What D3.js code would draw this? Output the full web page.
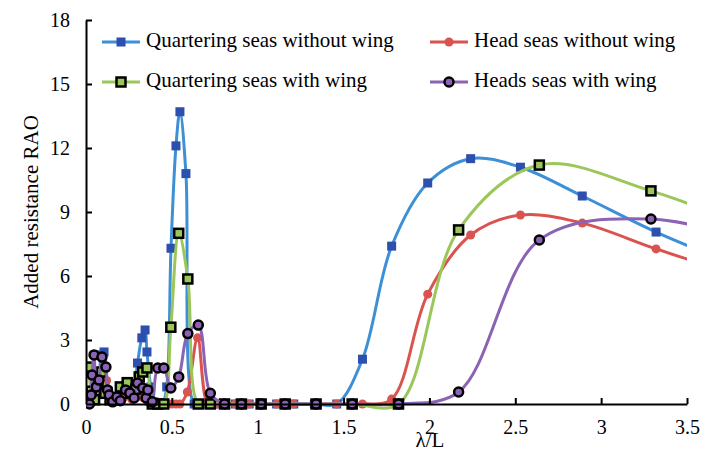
<!DOCTYPE html>
<html>
<head>
<meta charset="utf-8">
<title>Added resistance RAO</title>
<script src="https://d3js.org/d3.v7.min.js"></script>
<style>
  body { margin: 0; background: #fff; }
</style>
</head>
<body>
<svg id="chart"></svg>
<script>
// series values: [lambda/L, RAO]
var quarterNoWing = [[0.02,0.3],[0.05,1.2],[0.07,0.5],[0.09,2.3],[0.105,2.44],[0.13,0.6],[0.16,0.2],[0.2,0.4],[0.24,0.6],[0.27,0.3],
  [0.3,1.92],[0.325,3.1],[0.344,3.47],[0.355,2.44],[0.377,0.8],[0.396,0.1],[0.417,0],[0.445,0],[0.47,0.8],[0.495,7.3],
  [0.524,12.1],[0.547,13.7],[0.582,10.8],[0.63,0],[0.67,0],[0.71,0],[0.76,0],[0.81,0],[0.87,0],[0.95,0],[1.02,0],[1.11,0],
  [1.21,0],[1.33,0],[1.46,0],[1.61,2.1],[1.78,7.4],[1.99,10.36],[2.24,11.5],[2.53,11.1],[2.89,9.75],[3.32,8.06],[3.85,6.3]]
var headNoWing = [[0.02,0.2],[0.05,0.4],[0.08,0.9],[0.12,1.1],[0.14,0.3],[0.17,0.1],[0.22,0.3],[0.27,0.2],[0.3,0.5],[0.33,0.3],
  [0.36,0.1],[0.4,0],[0.445,0],[0.47,0],[0.5,0],[0.524,0],[0.547,0],[0.59,0.56],[0.65,3.1],[0.71,0],[0.76,0],[0.81,0],[0.87,0],
  [0.95,0],[1.02,0],[1.11,0],[1.21,0],[1.33,0],[1.46,0],[1.61,0],[1.78,0.23],[1.99,5.15],[2.24,7.92],[2.53,8.86],[2.89,8.48],
  [3.32,7.27],[3.85,5.9]]
var quarterWing = [[0.017,1.73],[0.03,0.6],[0.05,0.2],[0.07,0.9],[0.09,1.5],[0.11,0.5],[0.14,0.2],[0.17,0.3],[0.2,0.8],[0.24,1.0],
  [0.26,0.5],[0.29,0.7],[0.31,1.27],[0.33,1.5],[0.355,1.69],[0.386,0],[0.418,0],[0.453,0],[0.494,3.6],[0.54,8.0],[0.593,5.86],
  [0.654,0],[0.724,0],[0.807,0],[0.905,0],[1.02,0],[1.16,0],[1.34,0],[1.55,0],[1.82,0],[2.17,8.16],[2.64,11.2],[3.29,9.99],[4.18,7.3]]
var headWing = [[0.02,0],[0.03,0.42],[0.035,1.36],[0.047,2.3],[0.06,0.8],[0.076,1.12],[0.093,2.2],[0.116,1.73],[0.125,0.66],
  [0.135,0.42],[0.155,0.1],[0.18,0.33],[0.2,0.15],[0.23,0.66],[0.255,0.52],[0.28,0.28],[0.3,0.98],[0.33,0.75],[0.35,0.28],
  [0.36,0.66],[0.386,0.1],[0.418,1.69],[0.453,1.69],[0.494,0.75],[0.54,1.27],[0.593,3.3],[0.654,3.7],[0.724,0.5],[0.807,0],
  [0.905,0],[1.02,0],[1.16,0],[1.34,0],[1.55,0],[1.82,0],[2.17,0.56],[2.64,7.69],[3.29,8.67],[4.18,6.9]]

var seriesNames = ['Quartering seas without wing', 'Head seas without wing', 'Quartering seas with wing', 'Heads seas with wing']
var xTicks = [0, 0.5, 1, 1.5, 2, 2.5, 3, 3.5]
var yTicks = [0, 3, 6, 9, 12, 15, 18]

var W = 715, H = 453
var pLeft = 86, pRight = 687, pTop = 20, pBottom = 404
var serif = '"Liberation Serif", "Times New Roman", serif'

var svg = d3.select('#chart').attr('width', W).attr('height', H)

var x = d3.scaleLinear().domain([0, 3.5]).range([pLeft, pRight])
var y = d3.scaleLinear().domain([0, 18]).range([pBottom, pTop])

svg.append('defs').append('clipPath').attr('id', 'plot')
  .append('rect').attr('x', pLeft).attr('y', pTop - 10).attr('width', pRight - pLeft).attr('height', pBottom - pTop + 20)

var styles = [
  { data: quarterNoWing, line: '#3d8fd6', marker: 'square', fill: '#2d4fae', stroke: 'none', size: 9 },
  { data: headNoWing, line: '#d9534f', marker: 'circle', fill: '#d9534f', stroke: 'none', size: 4.5 },
  { data: quarterWing, line: '#9bc75a', marker: 'square', fill: '#9bc75a', stroke: '#000', size: 9 },
  { data: headWing, line: '#8b63b5', marker: 'circle', fill: '#8b63b5', stroke: '#000', size: 4.5 }
]

var line = d3.line()
  .x(function (d) { return x(d[0]) })
  .y(function (d) { return y(d[1]) })
  .curve(d3.curveCatmullRom.alpha(0.5))

function drawMarker(g, s, cx, cy) {
  if (s.marker == 'square') {
    g.append('rect')
      .attr('x', cx - s.size / 2).attr('y', cy - s.size / 2)
      .attr('width', s.size).attr('height', s.size)
      .attr('fill', s.fill).attr('stroke', s.stroke).attr('stroke-width', 2.5)
  } else {
    g.append('circle')
      .attr('cx', cx).attr('cy', cy).attr('r', s.size)
      .attr('fill', s.fill).attr('stroke', s.stroke).attr('stroke-width', 2.5)
  }
}

var plot = svg.append('g').attr('clip-path', 'url(#plot)')

styles.forEach(function (s) {
  var g = plot.append('g')
  g.append('path')
    .attr('d', line(s.data))
    .attr('fill', 'none')
    .attr('stroke', s.line)
    .attr('stroke-width', 3)
  s.data.forEach(function (d) {
    if (d[0] <= 3.5) drawMarker(g, s, x(d[0]), y(d[1]))
  })
})

// axes, ticks inside
var xAxis = svg.append('g').attr('transform', `translate(0,${pBottom})`)
  .call(d3.axisBottom(x).tickValues(xTicks).tickSizeInner(-6).tickSizeOuter(0).tickPadding(16).tickFormat(d3.format('')))
var yAxis = svg.append('g').attr('transform', `translate(${pLeft},0)`)
  .call(d3.axisLeft(y).tickValues(yTicks).tickSizeInner(-6).tickSizeOuter(0).tickPadding(16))

;[xAxis, yAxis].forEach(function (a) {
  a.select('.domain').attr('stroke', '#000').attr('stroke-width', 2)
  a.selectAll('.tick line').attr('stroke', '#000').attr('stroke-width', 2)
  a.selectAll('.tick text').style('font-family', serif).style('font-size', '20px').attr('fill', '#000')
})
xAxis.selectAll('.tick').filter(function (d) { return d == 0 }).select('line').remove()
yAxis.selectAll('.tick').filter(function (d) { return d == 0 }).select('line').remove()

svg.append('text')
  .attr('x', 430).attr('y', 447)
  .attr('text-anchor', 'middle')
  .style('font-family', serif)
  .style('font-size', '21px')
  .text('λ/L')

svg.append('text')
  .attr('transform', 'translate(33,212) rotate(-90)')
  .attr('text-anchor', 'middle')
  .attr('dominant-baseline', 'middle')
  .style('font-family', serif)
  .style('font-size', '21px')
  .text('Added resistance RAO')

// legend
var legendPos = [[102, 42], [430, 42], [102, 82], [430, 82]]
styles.forEach(function (s, i) {
  var lg = svg.append('g')
  var lx = legendPos[i][0], ly = legendPos[i][1]
  lg.append('line').attr('x1', lx).attr('x2', lx + 38).attr('y1', ly).attr('y2', ly)
    .attr('stroke', s.line).attr('stroke-width', 3)
  drawMarker(lg, s, lx + 19, ly)
  lg.append('text').attr('x', lx + 44).attr('y', ly)
    .attr('dominant-baseline', 'middle')
    .style('font-family', serif)
    .style('font-size', '21px')
    .text(seriesNames[i])
})
</script>
</body>
</html>
